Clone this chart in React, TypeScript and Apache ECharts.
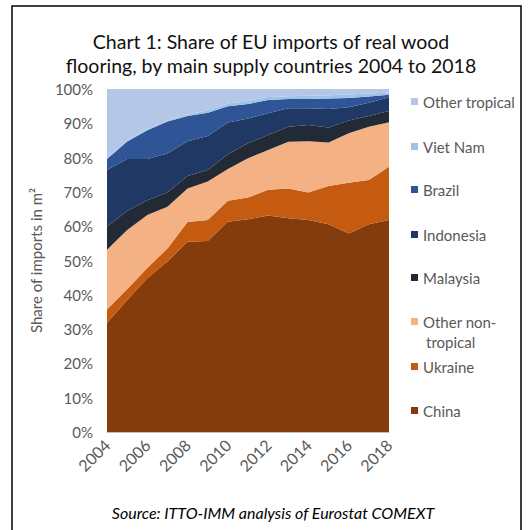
import React, { useEffect, useRef } from "react";
import * as echarts from "echarts";

const years = ["2004","2005","2006","2007","2008","2009","2010","2011","2012","2013","2014","2015","2016","2017","2018"];
const china = [31.8, 38.5, 44.8, 49.7, 55.5, 55.7, 61.3, 62.0, 63.1, 62.3, 61.8, 60.6, 57.9, 60.6, 61.8];
const ukraine = [3.9, 3.1, 3.0, 3.8, 5.7, 6.1, 6.1, 6.4, 7.5, 8.7, 8.0, 11.1, 14.8, 12.9, 15.5];
const otherNonTropical = [17.4, 17.3, 15.5, 12.2, 9.8, 11.2, 9.3, 11.4, 11.6, 13.6, 15.0, 12.7, 14.4, 15.5, 13.0];
const malaysia = [6.8, 5.5, 4.3, 4.1, 3.6, 3.4, 4.3, 4.4, 4.4, 4.4, 4.7, 4.4, 3.7, 3.1, 3.3];
const indonesia = [16.5, 15.2, 12.0, 11.4, 10.2, 9.9, 9.2, 7.2, 6.3, 5.4, 4.9, 5.4, 3.9, 3.9, 4.0];
const brazil = [3.2, 5.1, 8.4, 9.3, 7.3, 6.8, 4.8, 4.2, 3.9, 2.7, 2.7, 3.0, 2.7, 1.8, 0.7];
const vietNam = [0.3, 0.3, 0.3, 0.3, 0.5, 0.7, 0.8, 0.9, 0.9, 0.8, 0.9, 1.0, 1.0, 0.9, 0.7];
const otherTropical = [20.1, 15.0, 11.7, 9.2, 7.4, 6.2, 4.2, 3.5, 2.3, 2.1, 2.0, 1.8, 1.6, 1.3, 1.0];
const yTicks = ["0%","10%","20%","30%","40%","50%","60%","70%","80%","90%","100%"];

const seriesDefs = [
  { name: "China", data: china, color: "#843c0c" },
  { name: "Ukraine", data: ukraine, color: "#c55a11" },
  { name: "Other non-tropical", data: otherNonTropical, color: "#f4b183" },
  { name: "Malaysia", data: malaysia, color: "#222a35" },
  { name: "Indonesia", data: indonesia, color: "#1f3864" },
  { name: "Brazil", data: brazil, color: "#2f5597" },
  { name: "Viet Nam", data: vietNam, color: "#9dc3e6" },
  { name: "Other tropical", data: otherTropical, color: "#b4c7e7" },
];

const legendOrder = ["Other tropical", "Viet Nam", "Brazil", "Indonesia", "Malaysia", "Other non-tropical", "Ukraine", "China"];
const legendY = [103, 148, 191, 236, 279, 323, 368, 412];

const FONT = "Lato, 'Noto Sans', sans-serif";

export default function App() {
  const ref = useRef<HTMLDivElement>(null);
  useEffect(() => {
    if (!ref.current) return;
    const chart = echarts.init(ref.current, undefined, { renderer: "svg" });
    const option: any = {
      animation: false,
      backgroundColor: "#ffffff",
      textStyle: { fontFamily: FONT },
      title: [
        {
          text: "Chart 1: Share of EU imports of real wood\nflooring, by main supply countries 2004 to 2018",
          left: 266,
          textAlign: "center",
          top: 24,
          textStyle: { fontFamily: FONT, fontSize: 19.5, fontWeight: "normal", color: "#111111", lineHeight: 24 },
        },
        {
          text: "Source: ITTO-IMM analysis of Eurostat COMEXT",
          left: 268,
          textAlign: "center",
          top: 499,
          textStyle: { fontFamily: FONT, fontSize: 16, fontWeight: "normal", fontStyle: "italic", color: "#000000" },
        },
      ],
      legend: legendOrder.map((n, i) => ({
        data: [n],
        left: 411,
        top: legendY[i] - 9,
        padding: 0,
        icon: "rect",
        itemWidth: 7,
        itemHeight: 7,
        itemGap: 8,
        selectedMode: false,
        formatter: (name: string) => (name === "Other non-tropical" ? "Other non-" : name),
        textStyle: { fontFamily: FONT, fontSize: 15, color: "#595959", padding: [0, 0, 0, 0] },
      })),
      grid: { left: 107, right: 139, top: 89, bottom: 98 },
      xAxis: {
        type: "category",
        data: years,
        boundaryGap: false,
        axisLine: { lineStyle: { color: "#bfbfbf" } },
        axisTick: { show: false },
        axisLabel: {
          interval: 1,
          rotate: 45,
          fontFamily: FONT,
          fontSize: 16,
          color: "#595959",
          margin: 10,
        },
      },
      yAxis: {
        type: "value",
        min: 0,
        max: 100,
        interval: 10,
        name: "Share of imports in m²",
        nameLocation: "middle",
        nameGap: 60,
        nameTextStyle: { fontFamily: FONT, fontSize: 15, color: "#595959" },
        axisLabel: {
          fontFamily: FONT,
          fontSize: 15,
          color: "#595959",
          margin: 14,
          formatter: (v: number) => yTicks[Math.round(v / 10)],
        },
        axisLine: { show: false },
        axisTick: { show: false },
        splitLine: { lineStyle: { color: "#d9d9d9" } },
      },
      series: seriesDefs.map((s) => ({
        name: s.name,
        type: "line",
        stack: "total",
        data: s.data,
        showSymbol: false,
        symbol: "none",
        lineStyle: { width: 0 },
        itemStyle: { color: s.color },
        areaStyle: { color: s.color, opacity: 1 },
      })),
      graphic: [
        {
          type: "text",
          left: 426,
          top: 334,
          style: { text: "tropical", fontFamily: FONT, fontSize: 15, fill: "#595959" },
        },
        {
          type: "rect",
          shape: { x: 12, y: 6, width: 509, height: 540 },
          style: { fill: "none", stroke: "#000000", lineWidth: 1.5 },
          silent: true,
        },
      ],
    };
    chart.setOption(option);
    return () => chart.dispose();
  }, []);
  return (
    <div
      ref={ref}
      style={{ position: "absolute", left: 0, top: 0, width: 528, height: 530 }}
    />
  );
}
